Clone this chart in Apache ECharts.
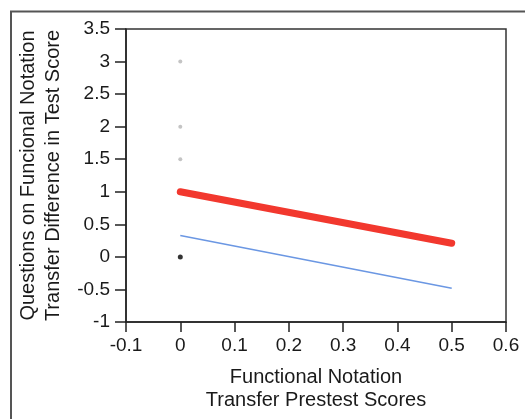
<!DOCTYPE html>
<html>
<head>
<meta charset="utf-8">
<script src="https://cdn.jsdelivr.net/npm/echarts@6/dist/echarts.min.js"></script>
<style>
  html, body { margin: 0; padding: 0; background: #fff; }
  #chart { width: 525px; height: 419px; }
</style>
</head>
<body>
<div id="chart"></div>
<script>
// data
var xTicks = [-0.1, 0, 0.1, 0.2, 0.3, 0.4, 0.5, 0.6];
var yTicks = [-1, -0.5, 0, 0.5, 1, 1.5, 2, 2.5, 3, 3.5];
var redLine = [[0, 1.0], [0.5, 0.21]];
var blueLine = [[0, 0.33], [0.5, -0.48]];
var grayPoints = [[0, 3], [0, 2], [0, 1.5]];
var blackPoints = [[0, 0]];

var font = 'Liberation Sans, Arial, sans-serif';

var chart = echarts.init(document.getElementById('chart'));

chart.setOption({
    animation: false,
    backgroundColor: '#fff',
    grid: { left: 126, right: 19, top: 29, bottom: 97, show: true, borderColor: '#333', borderWidth: 1.5 },
    graphic: [
        {
            type: 'polyline',
            shape: { points: [[11, 419], [11, 11.5], [525, 11.5]] },
            style: { stroke: '#555', lineWidth: 2, fill: null }
        }
    ],
    xAxis: {
        type: 'value',
        min: xTicks[0],
        max: xTicks[xTicks.length - 1],
        interval: 0.1,
        splitLine: { show: false },
        axisLine: { onZero: false, lineStyle: { color: '#222', width: 1.5 } },
        axisTick: { inside: false, length: 10, lineStyle: { color: '#222', width: 1.5 } },
        axisLabel: {
            color: '#1a1a1a', fontSize: 19, fontFamily: font, margin: 14,
            formatter: function (v) { return String(Math.round(v * 10) / 10); }
        },
        name: 'Functional Notation\nTransfer Prestest Scores',
        nameLocation: 'middle',
        nameGap: 44,
        nameTextStyle: { color: '#1a1a1a', fontSize: 20, fontFamily: font, lineHeight: 23 }
    },
    yAxis: {
        type: 'value',
        min: yTicks[0],
        max: yTicks[yTicks.length - 1],
        interval: 0.5,
        splitLine: { show: false },
        axisLine: { show: true, onZero: false, lineStyle: { color: '#222', width: 1.5 } },
        axisTick: { show: true, inside: false, length: 11, lineStyle: { color: '#222', width: 1.5 } },
        axisLabel: {
            color: '#1a1a1a', fontSize: 19, fontFamily: font, margin: 16,
            formatter: function (v) { return String(Math.round(v * 10) / 10); }
        },
        name: 'Questions on Funcional Notation\nTransfer Difference in Test Score',
        nameLocation: 'middle',
        nameGap: 58,
        nameTextStyle: { color: '#1a1a1a', fontSize: 20, fontFamily: font, lineHeight: 25 }
    },
    series: [
        {
            type: 'line',
            data: blueLine,
            symbol: 'none',
            lineStyle: { color: '#6b97e3', width: 1.5 },
            z: 2
        },
        {
            type: 'line',
            data: redLine,
            symbol: 'none',
            lineStyle: { color: '#f2382e', width: 7, cap: 'round' },
            z: 3
        },
        {
            type: 'scatter',
            data: grayPoints,
            symbolSize: 4,
            itemStyle: { color: '#b5b5b5' }
        },
        {
            type: 'scatter',
            data: blackPoints,
            symbolSize: 5,
            itemStyle: { color: '#000' }
        }
    ]
});
</script>
</body>
</html>
